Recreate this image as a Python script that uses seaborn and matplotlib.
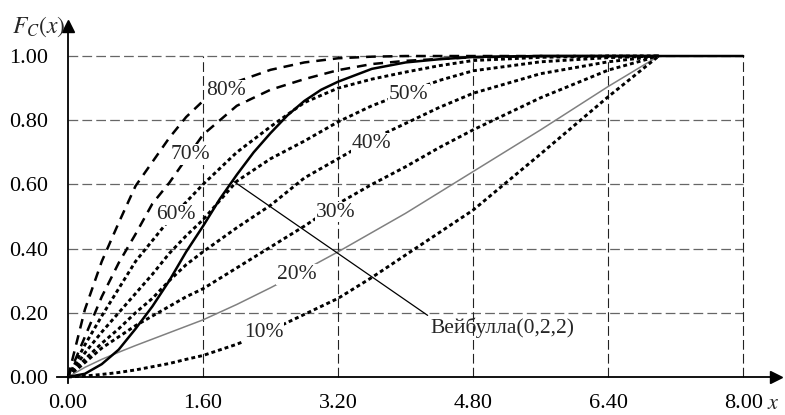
import numpy as np
import pandas as pd
import matplotlib
matplotlib.use("Agg")
import matplotlib.pyplot as plt
import seaborn as sns

# ---------------- data ----------------
X_GRID = [0, 0.2, 0.4, 0.6, 0.8, 1.0, 1.2, 1.4, 1.6, 2.0, 2.4, 2.8, 3.2, 3.6, 4.0, 4.4, 4.8, 5.6, 6.4, 7.0]

P80 = [0, 0.21, 0.36, 0.48, 0.595, 0.67, 0.745, 0.81, 0.86, 0.92, 0.957, 0.98, 0.993, 0.998, 1.0, 1.0, 1.0, 1.0, 1.0, 1.0]
P70 = [0, 0.125, 0.25, 0.355, 0.445, 0.54, 0.605, 0.68, 0.755, 0.845, 0.895, 0.928, 0.956, 0.975, 0.985, 0.991, 0.996, 1.0, 1.0, 1.0]
P60 = [0, 0.10, 0.19, 0.275, 0.36, 0.425, 0.49, 0.545, 0.60, 0.70, 0.78, 0.855, 0.90, 0.928, 0.95, 0.97, 0.986, 0.996, 1.0, 1.0]
P50 = [0, 0.075, 0.14, 0.20, 0.26, 0.32, 0.385, 0.44, 0.49, 0.61, 0.68, 0.735, 0.795, 0.845, 0.885, 0.924, 0.954, 0.982, 0.995, 1.0]
P40 = [0, 0.055, 0.105, 0.15, 0.20, 0.245, 0.30, 0.35, 0.39, 0.465, 0.535, 0.62, 0.68, 0.74, 0.79, 0.84, 0.884, 0.945, 0.982, 1.0]
P30 = [0, 0.045, 0.09, 0.125, 0.16, 0.19, 0.22, 0.25, 0.275, 0.34, 0.405, 0.47, 0.54, 0.60, 0.655, 0.715, 0.77, 0.87, 0.956, 1.0]
P20 = [0, 0.03, 0.055, 0.077, 0.098, 0.118, 0.138, 0.158, 0.178, 0.226, 0.278, 0.333, 0.39, 0.45, 0.51, 0.575, 0.64, 0.77, 0.905, 1.0]
P10 = [0, 0.003, 0.008, 0.014, 0.022, 0.032, 0.042, 0.055, 0.067, 0.102, 0.145, 0.195, 0.245, 0.31, 0.38, 0.45, 0.52, 0.695, 0.873, 1.0]

X_WEIBULL = [0, 0.2, 0.4, 0.6, 0.8, 1.0, 1.2, 1.4, 1.6, 1.8, 2.0, 2.2, 2.4, 2.6, 2.8, 3.0, 3.2,
             3.6, 4.0, 4.4, 4.8, 5.6, 6.4, 7.0, 8.0]
Y_WEIBULL = [0, 0.01, 0.04, 0.085, 0.15, 0.22, 0.30, 0.39, 0.47, 0.555, 0.63, 0.70, 0.76, 0.815,
             0.86, 0.895, 0.92, 0.96, 0.98, 0.99, 0.997, 1.0, 1.0, 1.0, 1.0]

PCT_LABELS = ["80%", "70%", "60%", "50%", "40%", "30%", "20%", "10%"]
LABEL_X = [1.87, 1.45, 1.28, 4.04, 3.60, 3.17, 2.71, 2.32]
LABEL_Y = [0.894, 0.693, 0.506, 0.88, 0.729, 0.514, 0.319, 0.139]

X_TICKS = [0.0, 1.6, 3.2, 4.8, 6.4, 8.0]
Y_TICKS = [0.0, 0.2, 0.4, 0.6, 0.8, 1.0]
WEIBULL_NAME = "Вейбулла(0,2,2)"

# ---------------- styling ----------------
sns.set_theme(style="white")
plt.rcParams["font.family"] = ["Liberation Serif", "DejaVu Serif"]
plt.rcParams["mathtext.fontset"] = "stix"
plt.rcParams["lines.scale_dashes"] = False

fig = plt.figure(figsize=(7.85, 4.15), dpi=100)
ax = fig.add_axes([0.0705, 0.0684, 0.9246, 0.8894])
ax.set_xlim(-0.15, 8.45)
ax.set_ylim(-0.03, 1.12)

# grid (dashed box)
for yv in Y_TICKS[1:]:
    ax.plot([0, 8], [yv, yv], color="#666666", lw=0.9, linestyle=(0, (7, 3)), zorder=1)
for xv in X_TICKS[1:]:
    ax.plot([xv, xv], [0, 1], color="#222222", lw=0.8, linestyle=(0, (7, 3)), zorder=1)

dashed = (0, (7, 5))
dotted = (0, (2.8, 2.2))
series = [
    (P80, dashed, "black", 1.8),
    (P70, dashed, "black", 1.8),
    (P60, dotted, "black", 2.1),
    (P50, dotted, "black", 2.1),
    (P40, dotted, "black", 2.1),
    (P30, dotted, "black", 2.1),
    (P20, "-", "#808080", 1.1),
    (P10, dotted, "black", 2.1),
]
for ys, ls, col, lw in series:
    df = pd.DataFrame({"x": X_GRID, "y": ys})
    sns.lineplot(data=df, x="x", y="y", ax=ax, color=col, linestyle=ls, lw=lw,
                 errorbar=None, zorder=3)

dfw = pd.DataFrame({"x": X_WEIBULL, "y": Y_WEIBULL})
sns.lineplot(data=dfw, x="x", y="y", ax=ax, color="black", lw=1.8, errorbar=None, zorder=4)

# percent labels
for lab, lx, ly in zip(PCT_LABELS, LABEL_X, LABEL_Y):
    ax.text(lx, ly, lab, ha="center", va="center", fontsize=15.5, zorder=6,
            bbox=dict(facecolor="white", edgecolor="none", pad=0.6))

# Weibull annotation
ax.annotate(WEIBULL_NAME, xy=(1.96, 0.61), xytext=(4.30, 0.153), ha="left", va="center",
            fontsize=15.5, zorder=6,
            arrowprops=dict(arrowstyle="-", lw=0.9, color="black", shrinkA=0, shrinkB=0,
                            relpos=(0.0, 1.0)))

# axes
for s in ["top", "right"]:
    ax.spines[s].set_visible(False)
ax.spines["left"].set_position(("data", 0))
ax.spines["bottom"].set_position(("data", 0))
ax.spines["left"].set_bounds(-0.02, 1.09)
ax.spines["bottom"].set_bounds(-0.13, 8.38)
for s in ["left", "bottom"]:
    ax.spines[s].set_color("black")
    ax.spines[s].set_linewidth(1.3)
ax.plot([8.39], [0], marker=">", color="black", markersize=8, clip_on=False, zorder=7)
ax.plot([0], [1.095], marker="^", color="black", markersize=8, clip_on=False, zorder=7)

ax.set_xticks(X_TICKS)
ax.set_yticks(Y_TICKS)
ax.set_xticklabels([f"{v:.2f}" for v in X_TICKS])
ax.set_yticklabels([f"{v:.2f}" for v in Y_TICKS])
ax.tick_params(axis="both", direction="inout", length=9, width=1.5, colors="black",
               labelsize=16)
ax.tick_params(axis="x", pad=8)
ax.tick_params(axis="y", pad=10)
ax.set_xlabel("")
ax.set_ylabel("")
ax.grid(False)

fig.text(12 / 785, 1 - 27 / 415, r"$F_C(x)$", ha="left", va="center", fontsize=17)
fig.text(773 / 785, 1 - 404 / 415, r"$x$", ha="center", va="center", fontsize=16)

fig.savefig("out.png", dpi=100)
